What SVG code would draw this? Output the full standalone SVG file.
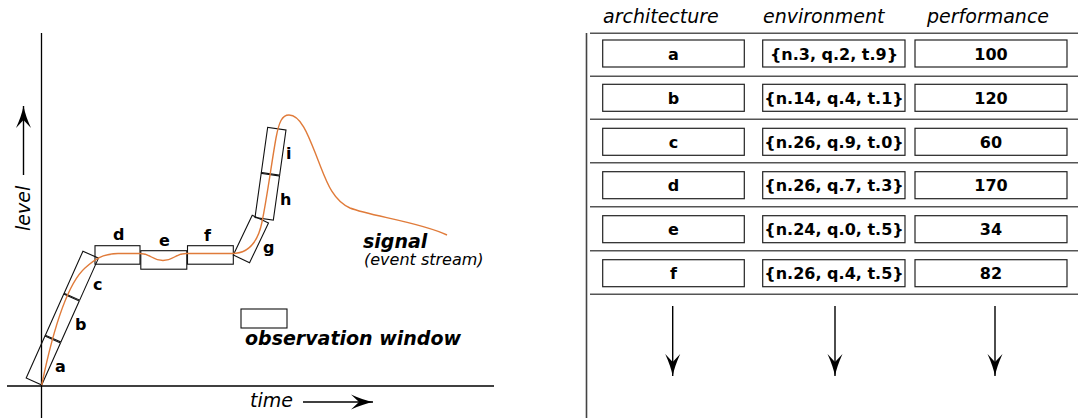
<svg xmlns="http://www.w3.org/2000/svg" width="1079" height="418" viewBox="0 0 1079 418">
  <style>
    .axis { stroke: #000; stroke-width: 1.3; fill: none; }
    .win { fill: none; stroke: #111; stroke-width: 1.1; }
    .sig { fill: none; stroke: #e07b3a; stroke-width: 1.4; }
    .lbl { font-family: "DejaVu Sans", Verdana, sans-serif; font-size: 16px; font-weight: bold; fill: #000; }
    .ital { font-family: "DejaVu Sans", Verdana, sans-serif; font-size: 19px; font-style: italic; fill: #000; }
    .boldital { font-family: "DejaVu Sans", Verdana, sans-serif; font-size: 19px; font-style: italic; font-weight: bold; fill: #000; }
    .small { font-family: "DejaVu Sans", Verdana, sans-serif; font-size: 16px; font-style: italic; fill: #000; }
    .sep { stroke: #555; stroke-width: 1.6; }
    .cell { fill: #fff; stroke: #222; stroke-width: 1.2; }
    .cellt { font-family: "DejaVu Sans", Verdana, sans-serif; font-size: 16px; font-weight: bold; fill: #000; text-anchor: middle; }
    .arr { stroke: #000; stroke-width: 1.4; fill: none; marker-end: url(#ah); }
  </style>
  <defs>
    <marker id="ah" viewBox="-24 -9 25 18" refX="0" refY="0" markerWidth="25" markerHeight="18" markerUnits="userSpaceOnUse" orient="auto">
      <path d="M0,0 Q-10,-2 -22,-7.5 L-14,0 L-22,7.5 Q-10,2 0,0 Z" fill="#000"/>
    </marker>
  </defs>

  <!-- axes of the level/time chart -->
  <g id="axes">
    <line class="axis" x1="41.5" y1="33" x2="41.5" y2="418"/>
    <line class="axis" x1="7" y1="386" x2="494" y2="386"/>
    <line class="arr" x1="23.5" y1="175" x2="23.5" y2="106"/>
    <text class="ital" transform="translate(29.5,231) rotate(-90)">level</text>
    <line class="arr" x1="303" y1="402" x2="373" y2="402"/>
    <text class="ital" x="250" y="407">time</text>
  </g>

  <!-- observation windows along the signal -->
  <g id="window-a" transform="translate(41.7,385) rotate(24.1)">
    <rect class="win" x="-17" y="-46" width="17" height="46"/>
  </g>
  <g id="window-b" transform="translate(41.7,385) rotate(24.1)">
    <rect class="win" x="-17" y="-92" width="17" height="45"/>
  </g>
  <g id="window-c" transform="translate(41.7,385) rotate(24.1)">
    <rect class="win" x="-17" y="-139" width="17" height="46"/>
  </g>
  <g id="window-d"><rect class="win" x="95" y="245.7" width="45" height="18.5"/></g>
  <g id="window-e"><rect class="win" x="140.8" y="250.7" width="46" height="18.5"/></g>
  <g id="window-f"><rect class="win" x="187.5" y="245.7" width="45.8" height="18.5"/></g>
  <g id="window-g" transform="translate(233.3,255) rotate(25.5)">
    <rect class="win" x="0" y="-44" width="18" height="44"/>
  </g>
  <g id="window-h" transform="translate(255,217.5) rotate(8)">
    <rect class="win" x="0" y="-44.5" width="18.5" height="44.5"/>
  </g>
  <g id="window-i" transform="translate(255,217.5) rotate(8)">
    <rect class="win" x="0" y="-91" width="18.5" height="45.5"/>
  </g>

  <!-- the signal (event stream) -->
  <g id="connectors">
    <path class="sig" d="M41.7,385 C52,335 66,285 85,268 C95,259 102,254 118,253.5 L140,253.5 C151,253.5 152,260.5 163,260.5 C174,260.5 175,253.5 186,253.5 L232,253.5 C248,253.5 258,242 262,222 C267,198 272,160 276,138 C279,122 282,115 289,115 C302,115 310,140 318,160 C326,180 332,200 350,208 C370,216 420,222 447,235"/>
  </g>

  <!-- window labels -->
  <g id="labels">
    <text class="lbl" x="55" y="372">a</text>
    <text class="lbl" x="75" y="330">b</text>
    <text class="lbl" x="93" y="290">c</text>
    <text class="lbl" x="113" y="240">d</text>
    <text class="lbl" x="159" y="246">e</text>
    <text class="lbl" x="204" y="241">f</text>
    <text class="lbl" x="263" y="253">g</text>
    <text class="lbl" x="280" y="205">h</text>
    <text class="lbl" x="286" y="159">i</text>
  </g>

  <g id="signal-label">
    <text class="boldital" x="363" y="248">signal</text>
    <text class="small" x="364" y="265">(event stream)</text>
  </g>

  <g id="legend">
    <rect class="win" x="241" y="309" width="46" height="19"/>
    <text class="boldital" x="245" y="345">observation window</text>
  </g>

  <!-- results table -->
  <g id="table">
    <line x1="586.5" y1="33" x2="586.5" y2="418" stroke="#444" stroke-width="1.6"/>
    <text class="ital" x="603" y="23">architecture</text>
    <text class="ital" x="763" y="23">environment</text>
    <text class="ital" x="927" y="23">performance</text>
    <line class="sep" x1="590" y1="33.3" x2="1078" y2="33.3"/>
    <line class="sep" x1="590" y1="76.3" x2="1078" y2="76.3"/>
    <line class="sep" x1="590" y1="119.3" x2="1078" y2="119.3"/>
    <line class="sep" x1="590" y1="162.7" x2="1078" y2="162.7"/>
    <line class="sep" x1="590" y1="206.7" x2="1078" y2="206.7"/>
    <line class="sep" x1="590" y1="250.7" x2="1078" y2="250.7"/>
    <line class="sep" x1="590" y1="294.3" x2="1078" y2="294.3"/>
  </g>

  <g id="row-a">
    <rect class="cell" x="602.7" y="40" width="141.6" height="27"/>
    <rect class="cell" x="762.7" y="40" width="142.3" height="27"/>
    <rect class="cell" x="915" y="40" width="152" height="27"/>
    <text class="cellt" x="673.5" y="59.5">a</text>
    <text class="cellt" x="834" y="59.5">{n.3, q.2, t.9}</text>
    <text class="cellt" x="991" y="59.5">100</text>
  </g>
  <g id="row-b">
    <rect class="cell" x="602.7" y="84.3" width="141.6" height="27"/>
    <rect class="cell" x="762.7" y="84.3" width="142.3" height="27"/>
    <rect class="cell" x="915" y="84.3" width="152" height="27"/>
    <text class="cellt" x="673.5" y="103.8">b</text>
    <text class="cellt" x="834" y="103.8">{n.14, q.4, t.1}</text>
    <text class="cellt" x="991" y="103.8">120</text>
  </g>
  <g id="row-c">
    <rect class="cell" x="602.7" y="128.3" width="141.6" height="27"/>
    <rect class="cell" x="762.7" y="128.3" width="142.3" height="27"/>
    <rect class="cell" x="915" y="128.3" width="152" height="27"/>
    <text class="cellt" x="673.5" y="147.8">c</text>
    <text class="cellt" x="834" y="147.8">{n.26, q.9, t.0}</text>
    <text class="cellt" x="991" y="147.8">60</text>
  </g>
  <g id="row-d">
    <rect class="cell" x="602.7" y="171.7" width="141.6" height="27"/>
    <rect class="cell" x="762.7" y="171.7" width="142.3" height="27"/>
    <rect class="cell" x="915" y="171.7" width="152" height="27"/>
    <text class="cellt" x="673.5" y="191.2">d</text>
    <text class="cellt" x="834" y="191.2">{n.26, q.7, t.3}</text>
    <text class="cellt" x="991" y="191.2">170</text>
  </g>
  <g id="row-e">
    <rect class="cell" x="602.7" y="215.7" width="141.6" height="27"/>
    <rect class="cell" x="762.7" y="215.7" width="142.3" height="27"/>
    <rect class="cell" x="915" y="215.7" width="152" height="27"/>
    <text class="cellt" x="673.5" y="235.2">e</text>
    <text class="cellt" x="834" y="235.2">{n.24, q.0, t.5}</text>
    <text class="cellt" x="991" y="235.2">34</text>
  </g>
  <g id="row-f">
    <rect class="cell" x="602.7" y="259.7" width="141.6" height="27"/>
    <rect class="cell" x="762.7" y="259.7" width="142.3" height="27"/>
    <rect class="cell" x="915" y="259.7" width="152" height="27"/>
    <text class="cellt" x="673.5" y="279.2">f</text>
    <text class="cellt" x="834" y="279.2">{n.26, q.4, t.5}</text>
    <text class="cellt" x="991" y="279.2">82</text>
  </g>

  <g id="table-arrows">
    <line class="arr" x1="672.7" y1="306" x2="672.7" y2="376"/>
    <line class="arr" x1="835" y1="306" x2="835" y2="376"/>
    <line class="arr" x1="995" y1="306" x2="995" y2="376"/>
  </g>
</svg>
